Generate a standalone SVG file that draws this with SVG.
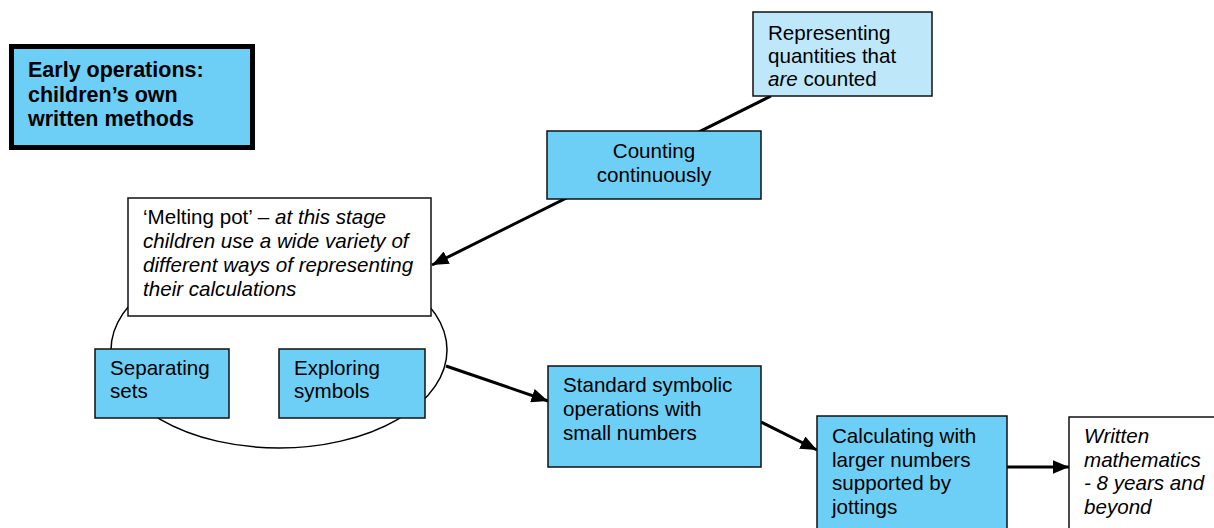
<svg xmlns="http://www.w3.org/2000/svg" width="1214" height="528" viewBox="0 0 1214 528">
<defs>
<marker id="ah" viewBox="0 0 10 10" refX="10" refY="5" markerWidth="5.5" markerHeight="4.6" orient="auto" markerUnits="strokeWidth" preserveAspectRatio="none">
<path d="M0,0 L10,5 L0,10 Z" fill="#000"/>
</marker>
<style>
text{font-family:"Liberation Sans",Arial,sans-serif;font-size:20.6px;fill:#000}
.b{fill:#6DCFF6;stroke:#111;stroke-width:1.5}
.lb{fill:#BEE8FA;stroke:#111;stroke-width:1.5}
.w{fill:#fff;stroke:#111;stroke-width:1.5}
.c{stroke:#000;stroke-width:3;fill:none}
.i{font-style:italic}
.t{font-weight:bold;font-size:21.5px}
</style>
</defs>
<rect width="1214" height="528" fill="#fff"/>
<g id="connectors">
<line class="c" x1="771" y1="96" x2="432" y2="265" marker-end="url(#ah)"/>
<line class="c" x1="446" y1="366" x2="548" y2="401" marker-end="url(#ah)"/>
<line class="c" x1="761" y1="422" x2="817" y2="450" marker-end="url(#ah)"/>
<line class="c" x1="1007" y1="467" x2="1069" y2="467" marker-end="url(#ah)"/>
</g>
<g id="title">
<rect x="11.5" y="46.5" width="241" height="101" fill="#6DCFF6" stroke="#000" stroke-width="5"/>
<text x="28" y="77" class="t">Early operations:</text>
<text x="28" y="102" class="t">children’s own</text>
<text x="28" y="126" class="t">written methods</text>
</g>
<g id="representing">
<rect class="lb" x="753" y="12" width="179" height="84"/>
<text x="768" y="40">Representing</text>
<text x="768" y="63">quantities that</text>
<text x="768" y="86"><tspan class="i">are</tspan> counted</text>
</g>
<g id="counting">
<rect class="b" x="547" y="131" width="214" height="68"/>
<text x="654" y="158" text-anchor="middle">Counting</text>
<text x="654" y="182" text-anchor="middle">continuously</text>
</g>
<g id="melting-pot">
<ellipse cx="279" cy="350" rx="168" ry="98" fill="none" stroke="#000" stroke-width="1.5"/>
<rect class="w" x="128" y="198" width="303" height="118"/>
<text x="143" y="224">‘Melting pot’ – <tspan class="i">at this stage</tspan></text>
<text x="143" y="248" class="i">children use a wide variety of</text>
<text x="143" y="272" class="i">different ways of representing</text>
<text x="143" y="296" class="i">their calculations</text>
</g>
<g id="separating">
<rect class="b" x="95" y="349" width="134" height="69"/>
<text x="110" y="375">Separating</text>
<text x="110" y="398">sets</text>
</g>
<g id="exploring">
<rect class="b" x="279" y="349" width="146" height="69"/>
<text x="294" y="375">Exploring</text>
<text x="294" y="398">symbols</text>
</g>
<g id="standard">
<rect class="b" x="548" y="366" width="213" height="101"/>
<text x="563" y="392">Standard symbolic</text>
<text x="563" y="416">operations with</text>
<text x="563" y="440">small numbers</text>
</g>
<g id="calculating">
<rect class="b" x="817" y="416" width="190" height="120"/>
<text x="832" y="443">Calculating with</text>
<text x="832" y="467">larger numbers</text>
<text x="832" y="490">supported by</text>
<text x="832" y="514">jottings</text>
</g>
<g id="written">
<rect class="w" x="1069" y="417" width="160" height="120"/>
<text x="1084" y="443" class="i">Written</text>
<text x="1084" y="467" class="i">mathematics</text>
<text x="1084" y="490" class="i">- 8 years and</text>
<text x="1084" y="514" class="i">beyond</text>
</g>
</svg>
